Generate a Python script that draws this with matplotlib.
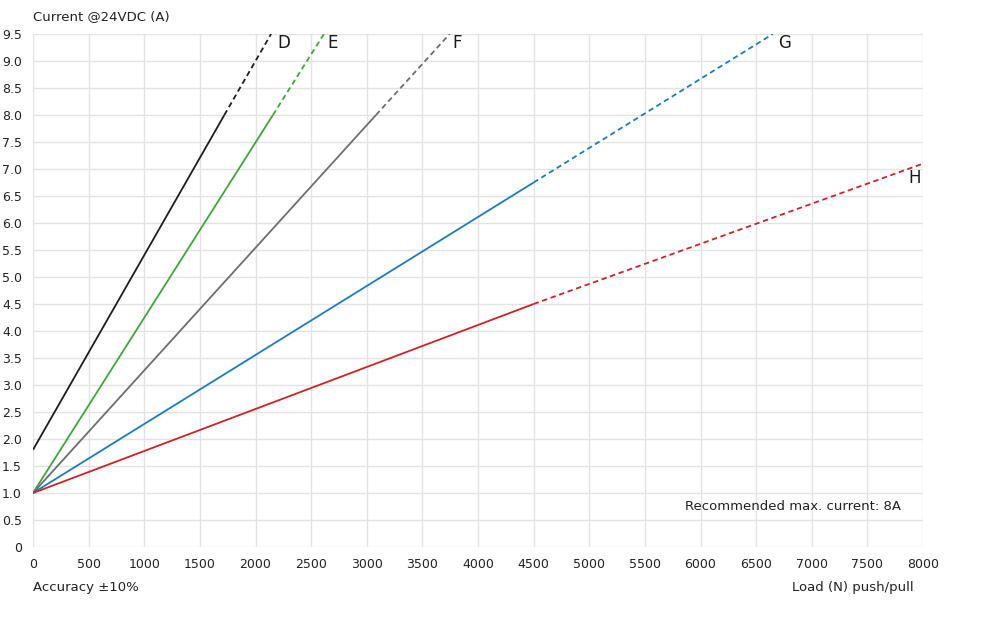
import matplotlib.pyplot as plt

# load (N) and current (A) per actuator model; solid up to rated, dashed beyond
models = ["D", "E", "F", "G", "H"]
colors = ["#1e1e1e", "#3aa935", "#6e6e6e", "#1a7dc2", "#d42026"]
solid_x = [[0, 1720], [0, 2157], [0, 3083], [0, 4500], [0, 4500]]
solid_y = [[1.8, 8.0], [1.0, 8.0], [1.0, 8.0], [1.0, 6.75], [1.0, 4.5]]
dash_x = [[1720, 2140], [2157, 2615], [3083, 3745], [4500, 6650], [4500, 8000]]
dash_y = [[8.0, 9.5], [8.0, 9.5], [8.0, 9.5], [6.75, 9.5], [4.5, 7.1]]
label_pos = [(2200, 9.33), (2650, 9.33), (3770, 9.33), (6700, 9.33), (7985, 6.83)]

x_ticks = list(range(0, 8001, 500))
y_ticks = [i * 0.5 for i in range(20)]
y_labels = ["0"] + [f"{v:.1f}" for v in y_ticks[1:]]

plt.rcParams["font.family"] = ["DejaVu Sans"]
fig = plt.figure(figsize=(9.99, 6.2), dpi=100)
ax = fig.add_axes([33 / 999, (620 - 547) / 620, 890 / 999, 513 / 620])

for i in range(len(models)):
    ax.plot(solid_x[i], solid_y[i], color=colors[i], lw=1.3, solid_capstyle="butt")
    ax.plot(dash_x[i], dash_y[i], color=colors[i], lw=1.3, ls=(0, (3, 2)))
    ha = "right" if models[i] == "H" else "left"
    ax.text(label_pos[i][0], label_pos[i][1], models[i], fontsize=12, ha=ha, va="center",
            color="#1a1a1a")

ax.set_xlim(0, 8000)
ax.set_ylim(0, 9.5)
ax.set_xticks(x_ticks)
ax.set_xticklabels([str(v) for v in x_ticks])
ax.set_yticks(y_ticks)
ax.set_yticklabels(y_labels)
ax.grid(True, color="#e3e3e3", lw=1)
ax.set_axisbelow(True)
for s in ax.spines.values():
    s.set_visible(False)
ax.tick_params(length=0, labelsize=9, colors="#222222")
ax.tick_params(axis="x", pad=8)
ax.tick_params(axis="y", pad=8)

ax.text(7800, 0.75, "Recommended max. current: 8A", fontsize=9.5, ha="right", va="center",
        color="#222222")
fig.text(33 / 999, 1 - 17 / 620, "Current @24VDC (A)", fontsize=9.5, va="center", color="#222222")
fig.text(33 / 999, 1 - 587 / 620, "Accuracy ±10%", fontsize=9.5, va="center", color="#222222")
fig.text(914 / 999, 1 - 587 / 620, "Load (N) push/pull", fontsize=9.5, va="center", ha="right",
         color="#222222")

fig.savefig("out.png", dpi=100)
